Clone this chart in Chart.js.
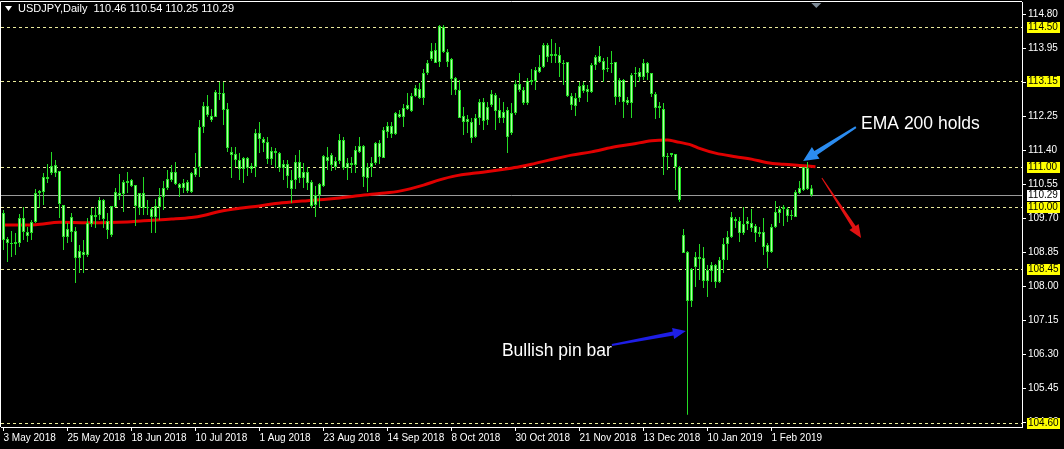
<!DOCTYPE html>
<html>
<head>
<meta charset="utf-8">
<script src="https://cdn.jsdelivr.net/npm/chart.js@4.4.1/dist/chart.umd.min.js"></script>
<style>
html, body { margin: 0; padding: 0; background: #000; }
#wrap { width: 1064px; height: 449px; }
</style>
</head>
<body>
<div id="wrap"><canvas id="priceChart" width="1064" height="449"></canvas></div>
<script>
// symbol and last bar (header line)
var symbolTitle = 'USDJPY,Daily';
var lastBar = [110.46, 110.54, 110.25, 110.29];

// one label every 16 daily bars
var tickDates = ['3 May 2018', '25 May 2018', '18 Jun 2018', '10 Jul 2018', '1 Aug 2018', '23 Aug 2018',
    '14 Sep 2018', '8 Oct 2018', '30 Oct 2018', '21 Nov 2018', '13 Dec 2018', '10 Jan 2019', '1 Feb 2019'];
var tickEvery = 16;

var priceTicks = [114.80, 113.95, 113.10, 112.25, 111.40, 110.55, 109.70, 108.85, 108.00, 107.15, 106.30, 105.45, 104.60];
var levels = [114.50, 113.15, 111.00, 110.00, 108.45, 104.60];
var bidPrice = 110.29;

// daily candles
var openP = [109.84,109.19,109.07,109.07,109.09,109.72,109.27,109.34,109.62,110.34,
    110.37,110.69,110.84,111.04,110.89,110.04,109.24,109.37,109.39,108.72,
    108.87,108.79,109.57,109.79,109.79,110.17,109.64,109.29,109.99,110.34,
    110.32,110.59,110.67,110.54,109.97,110.34,109.99,109.94,109.74,109.99,
    110.24,110.47,110.67,110.87,110.57,110.47,110.62,110.37,110.79,110.99,
    111.99,112.52,112.27,112.24,112.84,112.84,112.44,111.37,111.32,111.17,
    110.94,111.22,111.02,110.99,111.84,111.69,111.62,111.19,111.39,111.34,
    110.97,111.07,110.67,110.67,111.12,110.72,110.87,110.62,110.04,110.29,
    110.52,111.24,111.29,110.99,111.14,111.67,110.97,111.09,111.04,111.37,
    111.52,110.72,110.99,111.09,111.59,111.22,111.87,112.02,111.82,112.32,
    112.24,112.44,112.39,112.77,112.94,112.72,113.34,113.69,113.92,113.62,
    114.49,113.87,113.69,113.22,112.92,112.27,112.12,112.12,111.74,112.22,
    112.62,112.17,112.54,112.79,112.42,112.22,112.42,111.84,112.34,113.07,
    112.92,112.59,113.12,113.14,113.37,113.49,114.04,113.82,113.77,113.79,
    113.59,113.62,112.77,112.52,112.72,113.04,112.87,112.87,113.54,113.77,
    113.64,113.44,113.57,113.62,112.74,113.17,112.67,112.59,113.32,113.37,
    113.24,113.59,113.34,112.82,112.47,112.44,111.24,111.29,111.32,110.99,
    109.29,108.87,107.64,108.49,108.74,108.72,108.14,108.39,108.54,108.12,
    108.67,109.07,109.24,109.69,109.64,109.34,109.57,109.59,109.52,109.37,
    109.37,109.04,108.87,109.49,109.84,109.94,109.94,109.77,109.74,110.34,
    110.42,110.97,110.46];
var highP = [109.92,109.24,109.39,109.34,109.82,109.99,109.49,109.67,110.44,110.42,
    110.84,111.07,111.37,111.17,110.89,110.04,109.59,109.84,109.49,109.04,
    109.17,109.72,109.97,109.99,110.24,110.19,109.84,110.02,110.47,110.82,
    110.67,110.87,110.69,110.54,110.34,110.74,110.17,109.99,110.19,110.47,
    110.64,110.92,111.04,111.12,110.59,110.69,110.67,110.87,111.34,112.17,
    112.62,112.79,112.44,112.92,113.12,113.12,112.59,111.49,111.49,111.34,
    111.24,111.24,111.09,111.94,112.12,111.74,111.74,111.49,111.47,111.37,
    111.17,111.17,110.92,111.29,111.42,111.09,110.99,110.67,110.52,110.59,
    111.29,111.49,111.34,111.24,111.82,111.74,111.22,111.24,111.52,111.74,
    111.54,111.09,111.24,111.62,111.67,111.99,112.12,112.12,112.37,112.42,
    112.57,112.84,112.84,113.04,113.09,113.44,113.67,114.09,114.09,114.54,
    114.54,113.94,113.72,113.24,113.17,112.49,112.29,112.22,112.32,112.69,
    112.72,112.62,112.92,112.84,112.72,112.62,112.49,112.59,113.17,113.34,
    112.99,113.22,113.44,113.49,113.79,114.09,114.09,114.19,114.09,113.99,
    113.67,113.62,112.84,112.84,113.12,113.12,113.04,113.59,113.79,114.02,
    113.72,113.74,113.89,113.62,113.22,113.19,112.74,113.34,113.49,113.47,
    113.69,113.62,113.34,112.87,112.62,112.59,111.34,111.34,111.32,111.02,
    109.44,108.89,108.47,108.87,109.07,108.99,108.54,108.62,108.57,108.74,
    109.22,109.39,109.87,109.74,109.74,109.99,109.74,109.94,109.57,109.49,
    109.72,109.09,109.57,110.14,110.02,110.04,109.99,109.92,110.42,110.64,
    110.99,111.12,110.54];
var lowP = [108.92,108.62,108.74,108.79,108.99,109.17,109.12,109.17,109.59,109.97,
    110.04,110.59,110.79,110.74,109.72,108.92,109.09,109.12,108.09,108.34,
    108.34,108.74,109.49,109.47,109.67,109.47,109.19,109.24,109.99,110.17,
    109.87,110.34,110.49,109.52,109.79,109.79,109.79,109.34,109.34,109.67,
    109.92,110.42,110.62,110.54,110.24,110.34,110.34,110.34,110.74,110.74,
    111.84,112.24,112.12,112.24,112.67,112.04,111.37,110.72,110.99,110.67,
    110.59,110.77,110.84,110.74,111.34,111.37,111.07,111.04,110.97,110.87,
    110.67,110.47,110.09,110.44,110.59,110.47,110.42,109.97,109.74,109.99,
    110.49,110.92,110.89,110.92,111.07,110.92,110.67,110.84,110.84,111.34,
    110.49,110.37,110.74,111.04,111.07,111.22,111.72,111.72,111.79,112.22,
    111.99,112.42,112.37,112.74,112.69,112.54,113.29,113.64,113.59,113.49,
    113.84,113.49,112.79,112.79,112.22,111.79,111.84,111.59,111.72,112.04,
    111.92,112.04,112.49,111.92,112.09,112.09,111.34,111.79,112.29,112.87,
    112.54,112.54,113.04,112.92,113.34,113.47,113.62,113.59,113.59,113.24,
    113.04,112.74,112.42,112.27,112.62,112.84,112.62,112.84,113.42,113.59,
    113.12,113.37,113.34,112.54,112.62,112.22,112.54,112.22,112.99,113.12,
    113.17,113.17,112.74,112.19,112.22,110.79,110.92,111.24,110.42,110.12,
    108.84,104.80,107.49,107.99,108.17,107.97,107.74,108.12,107.97,108.09,
    108.34,108.67,109.22,109.47,109.12,109.29,109.42,109.37,109.12,109.24,
    108.79,108.47,108.84,109.47,109.59,109.52,109.62,109.67,109.74,110.32,
    110.39,110.42,110.25];
var closeP = [109.17,109.09,109.09,109.12,109.72,109.37,109.37,109.62,110.34,110.39,
    110.74,110.74,111.02,110.84,110.07,109.24,109.44,109.74,108.72,108.89,
    108.79,109.59,109.79,109.74,110.17,109.69,109.42,110.02,110.37,110.27,
    110.62,110.64,110.52,110.02,110.34,109.97,109.97,109.74,110.02,110.24,
    110.47,110.69,110.87,110.57,110.47,110.59,110.39,110.84,110.97,111.99,
    112.52,112.29,112.17,112.87,112.82,112.42,111.47,111.29,111.17,110.94,
    111.22,110.97,110.94,111.84,111.69,111.59,111.19,111.39,111.34,110.97,
    111.07,110.77,110.44,111.12,110.72,110.87,110.59,110.02,110.29,110.57,
    111.27,111.14,111.04,111.14,111.67,110.97,111.09,111.04,111.42,111.52,
    110.74,110.99,111.09,111.59,111.24,111.92,112.02,111.82,112.34,112.24,
    112.47,112.54,112.77,112.97,112.72,113.34,113.59,113.89,113.59,114.52,
    113.87,113.62,113.19,112.92,112.22,112.12,112.19,111.72,112.22,112.62,
    112.14,112.49,112.82,112.39,112.22,112.37,111.74,112.34,113.07,112.92,
    112.59,113.14,113.17,113.42,113.49,114.04,113.74,113.77,113.82,113.59,
    113.57,112.77,112.54,112.72,113.02,112.89,112.94,113.54,113.74,113.62,
    113.42,113.47,113.59,112.74,113.17,112.62,112.59,113.29,113.34,113.24,
    113.59,113.34,112.82,112.47,112.52,111.24,111.27,111.34,110.99,110.17,
    108.84,107.64,108.44,108.74,108.69,108.14,108.42,108.54,108.12,108.67,
    109.07,109.24,109.74,109.64,109.34,109.57,109.64,109.47,109.34,109.32,
    108.99,108.87,109.49,109.87,109.94,109.99,109.77,109.79,110.37,110.47,
    110.99,110.44,110.29];

// EMA 200 (bar number, price)
var emaBars = [0, 8, 14, 21, 31, 35, 42, 47, 50, 54, 59, 64, 68, 72, 76, 80, 84, 88, 94, 99,
    105, 109, 113, 118, 122, 126, 129, 132, 137, 142, 147, 152, 157, 162, 166, 168, 172, 174, 178, 183,
    187, 191, 195, 199, 203];
var emaValues = [109.54, 109.55, 109.61, 109.60, 109.62, 109.65, 109.69, 109.73, 109.78, 109.88,
    109.96, 110.02, 110.08, 110.12, 110.15, 110.18, 110.22, 110.27, 110.33, 110.39,
    110.54, 110.67, 110.77, 110.84, 110.89, 110.95, 111.00, 111.06, 111.18, 111.29,
    111.37, 111.48, 111.56, 111.65, 111.67, 111.63, 111.54, 111.46, 111.34, 111.25,
    111.19, 111.10, 111.06, 111.03, 111.00];

// drawn notes, in bar number / price
var notes = [
    { text: 'EMA 200 holds', bar: 214.4, price: 112.07 },
    { text: 'Bullish pin bar', bar: 124.6, price: 106.39 }
];
var arrows = [
    { from: [152.1, 106.54], to: [170.6, 106.89], color: '#1e1ee6', tail: 2, shaft: 4, head: 13, headW: 11 },
    { from: [213.1, 111.99], to: [199.9, 111.14], color: '#2b8cf0', tail: 2, shaft: 5, head: 15, headW: 14 },
    { from: [204.6, 110.72], to: [214.4, 109.22], color: '#e01212', tail: 1, shaft: 4, head: 13, headW: 11 }
];

var wicks = [], bodies = [];
for (var i = 0; i < openP.length; i++) {
    wicks.push({ x: i, y: [lowP[i], highP[i]] });
    bodies.push({ x: i, y: [openP[i], closeP[i]] });
}
var emaLine = emaBars.map(function(b, k) { return { x: b, y: emaValues[k] }; });

function drawArrow(ctx, x1, y1, x2, y2, a) {
    var dx = x2 - x1, dy = y2 - y1;
    var len = Math.sqrt(dx * dx + dy * dy);
    var ux = dx / len, uy = dy / len;
    var nx = -uy, ny = ux;
    var bx = x2 - ux * a.head, by = y2 - uy * a.head;
    ctx.beginPath();
    ctx.moveTo(x1 + nx * a.tail / 2, y1 + ny * a.tail / 2);
    ctx.lineTo(bx + nx * a.shaft / 2, by + ny * a.shaft / 2);
    ctx.lineTo(bx + nx * a.headW / 2, by + ny * a.headW / 2);
    ctx.lineTo(x2, y2);
    ctx.lineTo(bx - nx * a.headW / 2, by - ny * a.headW / 2);
    ctx.lineTo(bx - nx * a.shaft / 2, by - ny * a.shaft / 2);
    ctx.lineTo(x1 - nx * a.tail / 2, y1 - ny * a.tail / 2);
    ctx.closePath();
    ctx.fillStyle = a.color;
    ctx.fill();
}

var mtDecor = {
    id: 'mtDecor',
    beforeDraw: function(chart) {
        var ctx = chart.ctx;
        ctx.save();
        ctx.fillStyle = '#000';
        ctx.fillRect(0, 0, chart.width, chart.height);
        ctx.restore();
    },
    beforeDatasetsDraw: function(chart) {
        var ctx = chart.ctx, area = chart.chartArea, ys = chart.scales.y;
        ctx.save();
        ctx.lineWidth = 1;
        ctx.strokeStyle = '#9a9a9a';
        var by = Math.round(ys.getPixelForValue(bidPrice)) + 0.5;
        ctx.beginPath(); ctx.moveTo(area.left, by); ctx.lineTo(area.right, by); ctx.stroke();
        ctx.strokeStyle = '#ecec9c';
        ctx.setLineDash([3, 3]);
        levels.forEach(function(v) {
            var y = Math.round(ys.getPixelForValue(v)) + 0.5;
            ctx.beginPath(); ctx.moveTo(area.left, y); ctx.lineTo(area.right, y); ctx.stroke();
        });
        ctx.restore();
    },
    afterDraw: function(chart) {
        var ctx = chart.ctx, area = chart.chartArea, ys = chart.scales.y, xs = chart.scales.x;
        ctx.save();
        // frame top / left
        ctx.strokeStyle = '#ffffff';
        ctx.lineWidth = 1;
        ctx.beginPath();
        ctx.moveTo(area.left - 0.5, area.bottom);
        ctx.lineTo(area.left - 0.5, area.top - 0.5);
        ctx.lineTo(area.right, area.top - 0.5);
        ctx.stroke();

        // price labels on the axis
        ctx.font = '10px "Liberation Sans"';
        ctx.textBaseline = 'middle';
        ctx.textAlign = 'left';
        function tag(v, bg) {
            var y = Math.round(ys.getPixelForValue(v));
            ctx.fillStyle = bg;
            ctx.fillRect(area.right + 5, y - 5, 33, 11);
            ctx.fillStyle = '#000';
            ctx.fillText(v.toFixed(2), area.right + 6, y + 0.5);
        }
        levels.forEach(function(v) { tag(v, '#ffff00'); });
        tag(bidPrice, '#ffffff');

        // header
        ctx.fillStyle = '#ffffff';
        ctx.beginPath();
        ctx.moveTo(5, 6); ctx.lineTo(12, 6); ctx.lineTo(8.5, 11); ctx.closePath();
        ctx.fill();
        ctx.font = '11px "Liberation Sans"';
        ctx.fillText(symbolTitle + '  ' + lastBar.map(function(v) { return v.toFixed(2); }).join(' '), 18, 9);

        // chart shift marker
        var sx = xs.getPixelForValue(203.2);
        ctx.fillStyle = '#7d8a96';
        ctx.beginPath();
        ctx.moveTo(sx - 5, area.top + 1); ctx.lineTo(sx + 5, area.top + 1); ctx.lineTo(sx, area.top + 6); ctx.closePath();
        ctx.fill();

        // notes and arrows
        ctx.font = '17.5px "Liberation Sans"';
        ctx.fillStyle = '#ffffff';
        notes.forEach(function(n) {
            ctx.fillText(n.text, xs.getPixelForValue(n.bar), ys.getPixelForValue(n.price));
        });
        arrows.forEach(function(a) {
            drawArrow(ctx, xs.getPixelForValue(a.from[0]), ys.getPixelForValue(a.from[1]),
                xs.getPixelForValue(a.to[0]), ys.getPixelForValue(a.to[1]), a);
        });
        ctx.restore();
    }
};

var ctx = document.getElementById('priceChart').getContext('2d');
var priceChart = new Chart(ctx, {
    type: 'bar',
    data: {
        datasets: [{
            type: 'line',
            label: 'EMA 200',
            data: emaLine,
            borderColor: '#e00000',
            borderWidth: 3,
            pointRadius: 0,
            cubicInterpolationMode: 'monotone',
            fill: false,
            order: 3
        }, {
            label: 'wick',
            data: wicks,
            backgroundColor: '#24dc24',
            barThickness: 1,
            grouped: false,
            inflateAmount: 0,
            order: 2
        }, {
            label: 'body',
            data: bodies,
            backgroundColor: '#b2ffa8',
            borderColor: '#24dc24',
            borderWidth: 1,
            borderSkipped: false,
            barThickness: 3,
            minBarLength: 1,
            grouped: false,
            inflateAmount: 0,
            order: 1
        }]
    },
    options: {
        responsive: false,
        devicePixelRatio: 1,
        animation: false,
        layout: {
            autoPadding: false,
            padding: { left: 1, top: 2, right: 0, bottom: 0 }
        },
        scales: {
            x: {
                type: 'linear',
                min: -0.625,
                max: 254.625,
                offset: false,
                bounds: 'data',
                grid: { drawOnChartArea: false, drawTicks: true, tickLength: 4, color: '#ffffff', offset: false },
                border: { display: true, color: '#ffffff' },
                ticks: {
                    color: '#ffffff',
                    font: { family: 'Liberation Sans', size: 10 },
                    align: 'start',
                    maxRotation: 0,
                    autoSkip: false,
                    padding: 1,
                    callback: function(value, index) { return tickDates[index]; }
                },
                afterBuildTicks: function(scale) {
                    scale.ticks = tickDates.map(function(d, k) { return { value: k * tickEvery }; });
                },
                afterFit: function(scale) {
                    scale.height = 22;
                    scale.paddingLeft = 0;
                    scale.paddingRight = 0;
                }
            },
            y: {
                type: 'linear',
                position: 'right',
                min: 104.4925,
                max: 115.1175,
                bounds: 'data',
                grid: { drawOnChartArea: false, tickLength: 4, color: '#ffffff' },
                border: { color: '#ffffff' },
                ticks: {
                    color: '#ffffff',
                    font: { family: 'Liberation Sans', size: 10 },
                    padding: 2,
                    callback: function(value) { return value.toFixed(2); }
                },
                afterBuildTicks: function(scale) {
                    scale.ticks = priceTicks.map(function(v) { return { value: v }; });
                },
                afterFit: function(scale) {
                    scale.width = 42;
                    scale.paddingTop = 0;
                    scale.paddingBottom = 0;
                }
            }
        },
        plugins: {
            legend: { display: false },
            tooltip: { enabled: false },
            title: { display: false }
        }
    },
    plugins: [mtDecor]
});
</script>
</body>
</html>
